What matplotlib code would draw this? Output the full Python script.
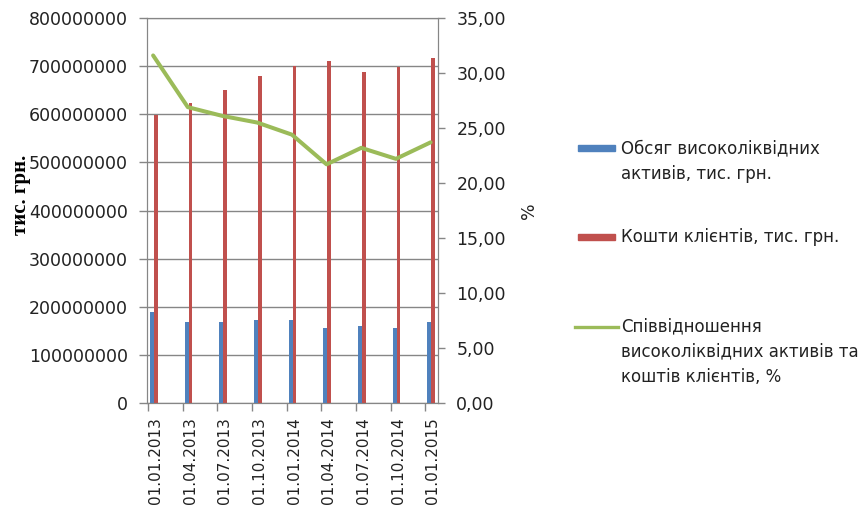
import matplotlib.pyplot as plt
import numpy as np
from matplotlib.lines import Line2D
from matplotlib.patches import Rectangle

dates = ['01.01.2013', '01.04.2013', '01.07.2013', '01.10.2013', '01.01.2014',
         '01.04.2014', '01.07.2014', '01.10.2014', '01.01.2015']
liquid = [190e6, 169e6, 169e6, 172e6, 172e6, 155e6, 159e6, 155e6, 169e6]
clients = [598e6, 624e6, 650e6, 679e6, 700e6, 710e6, 687e6, 698e6, 716e6]
ratio = [31.6, 26.9, 26.1, 25.5, 24.4, 21.7, 23.2, 22.2, 23.7]

left_ticks = [0, 100000000, 200000000, 300000000, 400000000, 500000000,
              600000000, 700000000, 800000000]
right_ticks = [0, 5, 10, 15, 20, 25, 30, 35]
right_labels = ['0,00', '5,00', '10,00', '15,00', '20,00', '25,00', '30,00', '35,00']

legend_labels = ['Обсяг високоліквідних\nактивів, тис. грн.',
                 'Кошти клієнтів, тис. грн.',
                 'Співвідношення\nвисоколіквідних активів та\nкоштів клієнтів, %']

blue = '#4F81BD'
red = '#C0504D'
green = '#9BBB59'
gray = '#868686'
txt = '#222222'

plt.rcParams['font.family'] = ['DejaVu Sans']

fig = plt.figure(figsize=(8.61, 5.16), dpi=100)
ax = fig.add_axes([0.171, 0.219, 0.338, 0.746])

x = np.arange(len(dates))
w = 0.11
ax.bar(x + 0.06, liquid, width=w, align='edge', color=blue, zorder=3)
ax.bar(x + 0.06 + w, clients, width=w, align='edge', color=red, zorder=3)

ax.set_xlim(-0.02, 8.37)
ax.set_ylim(0, 800000000)
ax.set_yticks(left_ticks)
ax.set_yticklabels([str(v) for v in left_ticks], fontsize=12.5, color=txt)
ax.set_xticks(x)
ax.set_xticklabels(dates, rotation=90, fontsize=11, color=txt, ha='left')
ax.grid(axis='y', color=gray, linewidth=1, zorder=0)
ax.tick_params(axis='both', color=gray, length=6, width=1)
ax.tick_params(axis='y', pad=8)
ax.tick_params(axis='x', pad=4)
for s in ['left', 'right', 'bottom', 'top']:
    ax.spines[s].set_color(gray)
ax.set_ylabel('тис. грн.', family='Liberation Serif', fontweight='bold',
              fontsize=15, color='black')
ax.yaxis.set_label_coords(-0.40, 0.54)

ax2 = ax.twinx()
ax2.plot(x + 0.15, ratio, color=green, linewidth=2.9, zorder=4,
         solid_joinstyle='round', solid_capstyle='round')
ax2.set_ylim(0, 35)
ax2.set_yticks(right_ticks)
ax2.set_yticklabels(right_labels, fontsize=12.5, color=txt)
ax2.tick_params(axis='y', color=gray, length=5, width=1, pad=8)
for s in ['left', 'right', 'bottom', 'top']:
    ax2.spines[s].set_color(gray)
ax2.set_ylabel('%', fontsize=12.5, color=txt, labelpad=10)

# legend drawn by hand so the handle sits at the first line of each label
W, H = 861, 516
fig.add_artist(Rectangle((578 / W, 1 - 151 / H), 37 / W, 6 / H,
                         transform=fig.transFigure, color=blue))
fig.add_artist(Rectangle((578 / W, 1 - 240 / H), 37 / W, 6 / H,
                         transform=fig.transFigure, color=red))
fig.add_artist(Line2D([575 / W, 618 / W], [1 - 327 / H, 1 - 327 / H],
                      transform=fig.transFigure, color=green, linewidth=2.4))
for label, ytop in zip(legend_labels, [139, 228, 317]):
    fig.text(621 / W, 1 - ytop / H, label, fontsize=12, color=txt,
             va='top', ha='left', linespacing=1.55)

fig.savefig('out.png', dpi=100)
